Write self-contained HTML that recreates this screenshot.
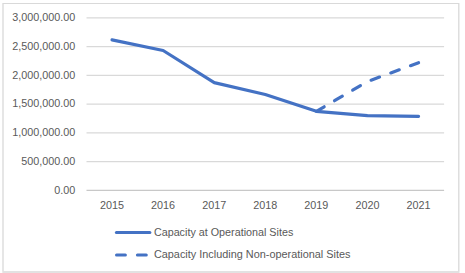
<!DOCTYPE html>
<html><head><meta charset="utf-8"><style>
html,body{margin:0;padding:0;background:#fff;width:465px;height:273px;overflow:hidden}
svg{display:block}
text{font-family:"Liberation Sans",sans-serif;font-size:10.8px;fill:#595959}
</style></head><body>
<svg width="465" height="273" viewBox="0 0 465 273">
<rect width="465" height="273" fill="#fff"/>
<line x1="2.35" y1="3.5" x2="459.45" y2="3.5" stroke="#d9d9d9" stroke-width="1"/>
<line x1="3" y1="4" x2="3" y2="271.35" stroke="#d9d9d9" stroke-width="1.3"/>
<line x1="458.8" y1="4" x2="458.8" y2="271.35" stroke="#d9d9d9" stroke-width="1.3"/>
<line x1="2.35" y1="272" x2="459.45" y2="272" stroke="#d9d9d9" stroke-width="1.3"/>
<line x1="86.5" y1="17.90" x2="444.1" y2="17.90" stroke="#d9d9d9" stroke-width="1.3"/>
<line x1="86.5" y1="46.65" x2="444.1" y2="46.65" stroke="#d9d9d9" stroke-width="1.3"/>
<line x1="86.5" y1="75.40" x2="444.1" y2="75.40" stroke="#d9d9d9" stroke-width="1.3"/>
<line x1="86.5" y1="104.15" x2="444.1" y2="104.15" stroke="#d9d9d9" stroke-width="1.3"/>
<line x1="86.5" y1="132.90" x2="444.1" y2="132.90" stroke="#d9d9d9" stroke-width="1.3"/>
<line x1="86.5" y1="161.65" x2="444.1" y2="161.65" stroke="#d9d9d9" stroke-width="1.3"/>
<line x1="86.5" y1="190.40" x2="444.1" y2="190.40" stroke="#c8c8c8" stroke-width="1.3"/>
<text x="75.2" y="21.10" text-anchor="end">3,000,000.00</text>
<text x="75.2" y="49.85" text-anchor="end">2,500,000.00</text>
<text x="75.2" y="78.60" text-anchor="end">2,000,000.00</text>
<text x="75.2" y="107.35" text-anchor="end">1,500,000.00</text>
<text x="75.2" y="136.10" text-anchor="end">1,000,000.00</text>
<text x="75.2" y="164.85" text-anchor="end">500,000.00</text>
<text x="75.2" y="193.60" text-anchor="end">0.00</text>
<text x="112.04" y="208.5" text-anchor="middle">2015</text>
<text x="163.13" y="208.5" text-anchor="middle">2016</text>
<text x="214.21" y="208.5" text-anchor="middle">2017</text>
<text x="265.30" y="208.5" text-anchor="middle">2018</text>
<text x="316.39" y="208.5" text-anchor="middle">2019</text>
<text x="367.47" y="208.5" text-anchor="middle">2020</text>
<text x="418.56" y="208.5" text-anchor="middle">2021</text>
<polyline points="112.04,39.90 163.13,50.52 214.21,82.63 265.30,94.52 316.39,111.30 367.47,115.55 418.56,116.30" fill="none" stroke="#4472c4" stroke-width="3.2" stroke-linejoin="round" stroke-linecap="round"/>
<polyline points="316.39,111.30 367.47,81.50 418.56,62.70" fill="none" stroke="#4472c4" stroke-width="3.2" stroke-linejoin="round" stroke-linecap="round" stroke-dasharray="9 12"/>
<line x1="116.4" y1="232.5" x2="149.9" y2="232.5" stroke="#4472c4" stroke-width="3.0" stroke-linecap="round"/>
<line x1="116.5" y1="255" x2="146.5" y2="255" stroke="#4472c4" stroke-width="3.0" stroke-linecap="round" stroke-dasharray="8.9 12"/>
<text x="153.9" y="235.8" style="font-size:11.3px" textLength="139.4" lengthAdjust="spacingAndGlyphs">Capacity at Operational Sites</text>
<text x="153.9" y="258.3" style="font-size:11.3px" textLength="196.6" lengthAdjust="spacingAndGlyphs">Capacity Including Non-operational Sites</text>
</svg>
</body></html>
